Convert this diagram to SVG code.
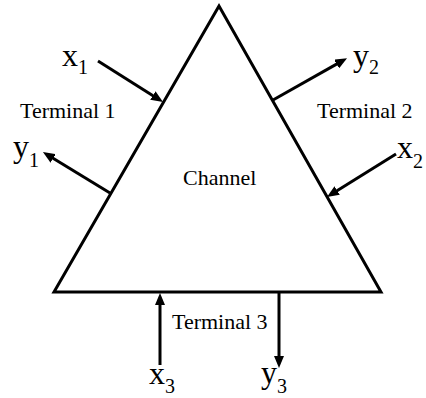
<svg xmlns="http://www.w3.org/2000/svg" width="426" height="398" viewBox="0 0 426 398">
<style>
.lbl{font-family:"Liberation Serif","Times New Roman",serif;font-size:22px;fill:#000}
.var{font-family:"Liberation Serif","Times New Roman",serif;font-size:32px;fill:#000}
.sub{font-size:20px}
.edge{stroke:#000;stroke-width:3;fill:none;marker-end:url(#ah)}
</style>
<defs>
<marker id="ah" viewBox="0 0 12 10" refX="3" refY="5" markerWidth="12" markerHeight="10" markerUnits="userSpaceOnUse" orient="auto">
<path d="M0,0 L12,5 L0,10 z" fill="#000"/>
</marker>
</defs>
<rect width="426" height="398" fill="#fff"/>
<g id="channel">
<polygon points="219,6 54,292 381,292" fill="#fff" stroke="#000" stroke-width="3" stroke-linejoin="miter"/>
<text class="lbl" x="183" y="185">Channel</text>
</g>
<g id="terminal1">
<text class="lbl" x="20" y="118">Terminal 1</text>
<text class="var" x="62" y="66">x<tspan class="sub" dy="8">1</tspan></text>
<text class="var" x="13" y="157">y<tspan class="sub" dy="10">1</tspan></text>
</g>
<g id="terminal2">
<text class="lbl" x="317" y="118">Terminal 2</text>
<text class="var" x="353" y="66">y<tspan class="sub" dy="8">2</tspan></text>
<text class="var" x="397" y="158">x<tspan class="sub" dy="10">2</tspan></text>
</g>
<g id="terminal3">
<text class="lbl" x="172" y="329">Terminal 3</text>
<text class="var" x="149" y="384">x<tspan class="sub" dy="9">3</tspan></text>
<text class="var" x="261" y="383">y<tspan class="sub" dy="10">3</tspan></text>
</g>
<g id="connectors">
<path class="edge" d="M98,61 L155.4,97.2"/>
<path class="edge" d="M110,193 L50.6,156.8"/>
<path class="edge" d="M273,100 L339.2,62.6"/>
<path class="edge" d="M396,154 L334.6,192.2"/>
<path class="edge" d="M160,365 L160,302"/>
<path class="edge" d="M279,292 L279,359"/>
</g>
</svg>
